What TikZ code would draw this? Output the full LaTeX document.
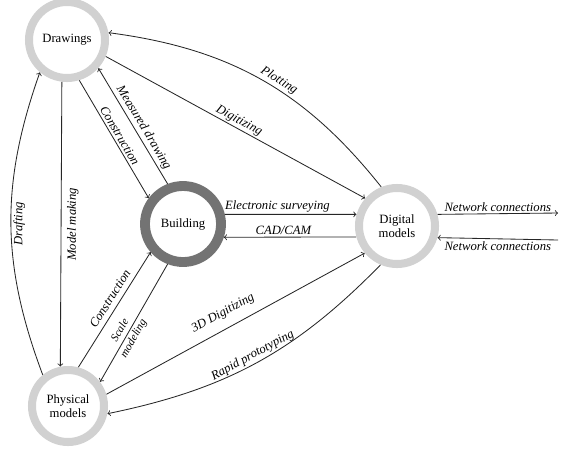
\documentclass[tikz,border=0pt]{standalone}
\usepackage{fontspec}
\setmainfont{Liberation Serif}
\usetikzlibrary{
    calc,
    positioning,
    arrows.meta
}
\tikzset{
    >=to,
    % Rings for the four kinds of record
    ring/.style={
        circle,
        line width=5.7pt,
        minimum size=1.9cm,
        inner sep=0pt,
        outer sep=3pt,
        align=center,
        font=\fontsize{9}{10}\selectfont
    },
    ringLight/.style={
        ring,
        draw=black!18
    },
    ringDark/.style={
        ring,
        draw=black!55,
        line width=7pt,
        outer sep=3.5pt
    },
    % Connectors and their labels
    flow/.style={
        ->,
        draw=black!85,
        line width=0.6pt
    },
    flowLabel/.style={
        font=\fontsize{9}{10}\selectfont\itshape,
        inner sep=1.5pt
    }
}

\begin{document}
\begin{tikzpicture}[x=0.025cm, y=-0.025cm]

    \useasboundingbox (0,0) rectangle (565,450);

    \node[ringLight] (drawings) at (67,40) {Drawings};
    \node[ringDark]  (building) at (183,224) {Building};
    \node[ringLight] (digital)  at (397,226) {Digital\\models};
    \node[ringLight, minimum size=1.8cm] (physical) at (68,406) {Physical\\models};

    \coordinate (netOut) at (558,213);
    \coordinate (netIn)  at (558,240);

    % Drawings <-> Physical models
    \draw[flow] (physical.129) to[bend left=20]
        node[flowLabel, midway, rotate=90, anchor=north] {Drafting} (drawings.230);
    \draw[flow] (drawings.263) --
        node[flowLabel, midway, rotate=90, anchor=north, inner sep=4pt] {Model making} (physical.101);

    % Drawings <-> Building
    \draw[flow] (drawings.287) --
        node[flowLabel, midway, sloped, above] {Construction} (building.143);
    \draw[flow] (building.111) --
        node[flowLabel, pos=0.45, sloped, above] {Measured drawing} (drawings.318);

    % Drawings <-> Digital models
    \draw[flow] (digital.112) to[bend right=22]
        node[flowLabel, pos=0.45, sloped, above] {Plotting} (drawings.10);
    \draw[flow] (drawings.337) --
        node[flowLabel, midway, sloped, above, inner sep=1pt] {Digitizing} (digital.139);

    % Building <-> Digital models
    \draw[flow] (building.13) --
        node[flowLabel, pos=0.4, above] {Electronic surveying} (digital.164);
    \draw[flow] (digital.195) --
        node[flowLabel, pos=0.55, above] {CAD/CAM} (building.342);

    % Physical models <-> Building
    \draw[flow] (physical.75) --
        node[flowLabel, pos=0.55, sloped, above=2pt] {Construction} (building.221);
    \draw[flow] (building.249) --
        node[flowLabel, pos=0.6, sloped, align=center,
             font=\fontsize{8}{11}\selectfont\itshape] {Scale\\modeling} (physical.37);

    % Physical models <-> Digital models
    \draw[flow] (physical.17) --
        node[flowLabel, pos=0.48, sloped, above=5pt] {3D Digitizing} (digital.220);
    \draw[flow] (digital.247) to[bend left=17]
        node[flowLabel, midway, sloped, above] {Rapid prototyping} (physical.349);

    % Network
    \draw[flow] (digital.16) --
        node[flowLabel, midway, above] {Network connections} (netOut);
    \draw[flow] (netIn) --
        node[flowLabel, midway, below] {Network connections} (digital.344);

\end{tikzpicture}
\end{document}
